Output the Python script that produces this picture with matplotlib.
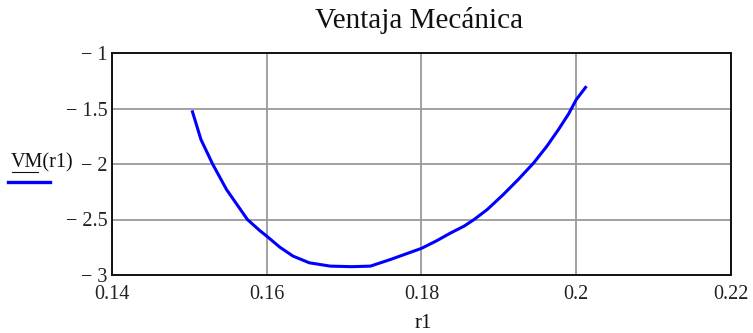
import matplotlib
matplotlib.use("Agg")
import matplotlib.pyplot as plt
from matplotlib.ticker import FixedLocator, FuncFormatter

# Mechanical advantage VM as a function of r1
r1 = [0.1504, 0.1515, 0.1530, 0.1548, 0.1562, 0.1575, 0.1591, 0.1600,
      0.1617, 0.1634, 0.1655, 0.1682, 0.1710, 0.1734, 0.1760, 0.1780,
      0.1800, 0.1820, 0.1838, 0.1855, 0.1868, 0.1885, 0.1905, 0.1925,
      0.1945, 0.1962, 0.1977, 0.1990, 0.2000, 0.2012]
vm = [-1.53, -1.78, -2.00, -2.23, -2.37, -2.50, -2.60, -2.65,
      -2.75, -2.83, -2.89, -2.92, -2.925, -2.92, -2.86, -2.81,
      -2.76, -2.69, -2.62, -2.56, -2.50, -2.41, -2.28, -2.14,
      -1.99, -1.84, -1.69, -1.55, -1.42, -1.31]

x_ticks = [0.14, 0.16, 0.18, 0.20, 0.22]
x_labels = ["0.14", "0.16", "0.18", "0.2", "0.22"]
y_ticks = [-3, -2.5, -2, -1.5, -1]
y_labels = ["\u2212 3", "\u2212 2.5", "\u2212 2", "\u2212 1.5", "\u2212 1"]

serif = ["Liberation Serif", "DejaVu Serif"]
plt.rcParams["font.family"] = serif

fig = plt.figure(figsize=(7.53, 3.33), dpi=100)
ax = fig.add_axes([112 / 753, 1 - 275 / 333, 619 / 753, 222 / 333])

ax.plot(r1, vm, color="#0000ff", linewidth=2.2, solid_joinstyle="round")

ax.set_xlim(0.14, 0.22)
ax.set_ylim(-3, -1)
ax.xaxis.set_major_locator(FixedLocator(x_ticks))
ax.yaxis.set_major_locator(FixedLocator(y_ticks))
ax.xaxis.set_major_formatter(FuncFormatter(lambda v, i: x_labels[i]))
ax.yaxis.set_major_formatter(FuncFormatter(lambda v, i: y_labels[i]))
ax.tick_params(length=0, labelsize=14.5, colors="#222222")
ax.tick_params(axis="x", pad=7)
ax.tick_params(axis="y", pad=3)
ax.grid(True, color="#9a9a9a", linewidth=1.3)
ax.set_axisbelow(True)
for s in ax.spines.values():
    s.set_color("#111111")
    s.set_linewidth(1.4)
    s.set_zorder(3)

fig.text(419 / 753, 1 - 21 / 333, "Ventaja Mecánica", ha="center", va="center",
         fontsize=21, color="#111111")
fig.text(423 / 753, 1 - 324 / 333, "r1", ha="center", va="center",
         fontsize=15, color="#111111")

# legend label with trace sample
fig.text(11 / 753, 1 - 163 / 333, "VM(r1)", ha="left", va="center",
         fontsize=14.5, color="#111111")
fig.add_artist(plt.Line2D([12 / 753, 38 / 753], [1 - 172 / 333, 1 - 172 / 333],
                          color="#111111", linewidth=0.8))
fig.add_artist(plt.Line2D([8 / 753, 50 / 753], [1 - 182 / 333, 1 - 182 / 333],
                          color="#0000ff", linewidth=2.4))

fig.savefig("out.png", dpi=100)
